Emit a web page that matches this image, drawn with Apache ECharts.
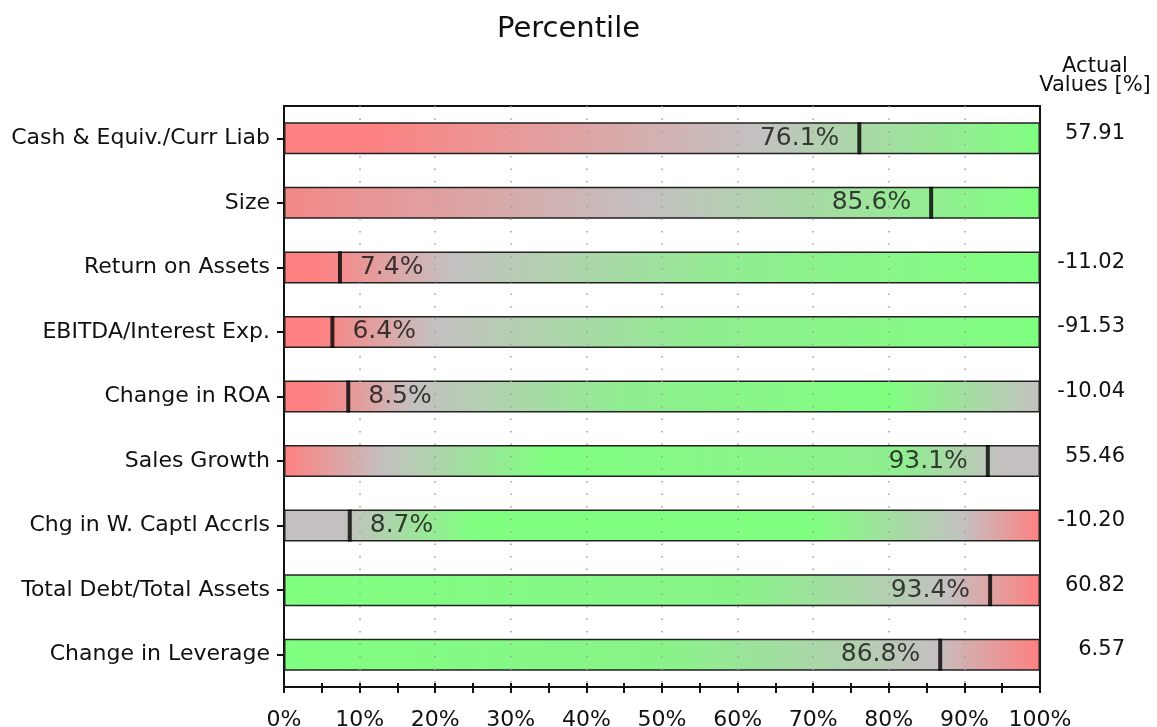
<!DOCTYPE html>
<html>
<head>
<meta charset="utf-8">
<script src="https://cdn.jsdelivr.net/npm/echarts@6/dist/echarts.min.js"></script>
<style>
  html, body { margin: 0; padding: 0; background: #fff; }
  #chart { width: 1157px; height: 727px; }
</style>
</head>
<body>
<div id="chart"></div>
<script>
// Peer-ranking factors, top to bottom
const categories = [
  'Cash & Equiv./Curr Liab',
  'Size',
  'Return on Assets',
  'EBITDA/Interest Exp.',
  'Change in ROA',
  'Sales Growth',
  'Chg in W. Captl Accrls',
  'Total Debt/Total Assets',
  'Change in Leverage'
];

// Percentile rank of each factor
const percentiles = [76.1, 85.6, 7.4, 6.4, 8.5, 93.1, 8.7, 93.4, 86.8];

// Actual factor values, in percent (blank where not reported)
const actualValues = ['57.91', '', '-11.02', '-91.53', '-10.04', '55.46', '-10.20', '60.82', '6.57'];

// Percentile scale and its tick labels
const scaleMax = 100;
const percentTicks = [0, 10, 20, 30, 40, 50, 60, 70, 80, 90, 100];

// Colour bands along each bar: red = weak, grey = neutral, green = strong
const RED = '#ff8080', GREY = '#c4c0c0', GREEN = '#80ff80', SOFTGREEN = '#90ee90';
const bandStops = [
  [[0, RED], [0.1, RED], [0.62, GREY], [1, GREEN]],
  [[0, '#f48888'], [0.48, GREY], [1, GREEN]],
  [[0, RED], [0.04, RED], [0.22, GREY], [0.6, SOFTGREEN], [1, GREEN]],
  [[0, RED], [0.04, RED], [0.2, GREY], [0.55, SOFTGREEN], [1, GREEN]],
  [[0, RED], [0.04, RED], [0.17, GREY], [0.45, SOFTGREEN], [0.8, GREEN], [1, GREY]],
  [[0, RED], [0.13, GREY], [0.35, GREEN], [0.82, SOFTGREEN], [0.95, GREY], [1, GREY]],
  [[0, GREY], [0.08, GREY], [0.25, GREEN], [0.7, GREEN], [0.9, GREY], [1, RED]],
  [[0, GREEN], [0.6, '#88f488'], [0.88, GREY], [1, RED]],
  [[0, GREEN], [0.5, '#88f488'], [0.86, GREY], [1, RED]]
];

const FONT = 'DejaVu Sans';
const INK = '#111';

function gradientFor(i) {
  return new echarts.graphic.LinearGradient(0, 0, 1, 0,
    bandStops[i].map(s => ({ offset: s[0], color: s[1] })));
}

const chart = echarts.init(document.getElementById('chart'));

chart.setOption({
  animation: false,
  backgroundColor: '#fff',
  title: {
    text: 'Percentile',
    left: 497,
    top: 15,
    padding: 0,
    textStyle: { fontFamily: FONT, fontSize: 29, fontWeight: 'normal', color: INK }
  },
  graphic: [{
    type: 'text',
    x: 1095,
    y: 57,
    style: {
      text: 'Actual\nValues [%]',
      textAlign: 'center',
      fontFamily: FONT,
      fontSize: 21,
      lineHeight: 19,
      fill: INK
    }
  }],
  grid: {
    left: 284, right: 117, top: 106, bottom: 40,
    outerBoundsMode: 'none',
    containLabel: false,
    show: true,
    borderColor: INK,
    borderWidth: 2
  },
  xAxis: [
    {
      type: 'value',
      min: percentTicks[0],
      max: percentTicks[percentTicks.length - 1],
      interval: percentTicks[1] - percentTicks[0],
      position: 'bottom',
      axisLine: { show: true, lineStyle: { color: INK, width: 2 } },
      axisTick: { show: true, length: 6, lineStyle: { color: INK, width: 2 } },
      minorTick: { show: true, splitNumber: 2, length: 6, lineStyle: { color: INK, width: 2 } },
      axisLabel: {
        formatter: v => v + '%',
        margin: 22,
        fontFamily: FONT, fontSize: 22, color: INK
      },
      splitLine: { show: false }
    },
    {
      type: 'value',
      min: percentTicks[0],
      max: percentTicks[percentTicks.length - 1],
      interval: percentTicks[1] - percentTicks[0],
      position: 'bottom',
      z: 10,
      axisLine: { show: false },
      axisTick: { show: true, inside: true, length: 4, lineStyle: { color: INK, width: 2 } },
      minorTick: { show: true, splitNumber: 2, length: 4, lineStyle: { color: INK, width: 2 } },
      axisLabel: { show: false },
      splitLine: {
        show: true,
        showMinLine: false,
        showMaxLine: false,
        lineStyle: { color: '#a0a0a0', width: 1.5, type: [1.5, 11] }
      }
    }
  ],
  yAxis: [
    {
      type: 'category',
      data: categories,
      inverse: true,
      position: 'left',
      axisLine: { show: true, lineStyle: { color: INK, width: 2 } },
      axisTick: { show: true, alignWithLabel: true, length: 7, lineStyle: { color: INK, width: 2 } },
      axisLabel: { margin: 14, fontFamily: FONT, fontSize: 22, color: INK }
    },
    {
      type: 'category',
      data: categories,
      inverse: true,
      position: 'left',
      axisLine: { show: false },
      axisTick: { show: true, inside: true, alignWithLabel: true, length: 3, lineStyle: { color: INK, width: 2 } },
      axisLabel: { show: false }
    },
    {
      type: 'category',
      data: categories,
      inverse: true,
      position: 'right',
      axisLine: { show: false },
      axisTick: { show: false },
      axisLabel: {
        formatter: (v, i) => actualValues[i],
        align: 'right',
        verticalAlign: 'bottom',
        lineHeight: 10,
        margin: 85,
        fontFamily: FONT, fontSize: 21, color: INK
      }
    }
  ],
  series: [
    {
      type: 'bar',
      xAxisIndex: 0,
      yAxisIndex: 0,
      barWidth: 32,
      silent: true,
      itemStyle: { borderColor: '#222', borderWidth: 1.5 },
      data: categories.map((c, i) => ({
        value: scaleMax,
        itemStyle: { color: gradientFor(i) }
      }))
    },
    {
      type: 'scatter',
      xAxisIndex: 0,
      yAxisIndex: 0,
      z: 20,
      silent: true,
      symbol: 'rect',
      symbolSize: [4, 32],
      itemStyle: { color: '#000' },
      data: percentiles.map((p, i) => ({
        value: [p, i],
        label: { position: p > scaleMax / 2 ? 'left' : 'right' }
      })),
      label: {
        show: true,
        distance: 18,
        formatter: d => d.value[0].toFixed(1) + '%',
        fontFamily: FONT,
        fontSize: 25,
        color: INK
      }
    }
  ]
});
</script>
</body>
</html>
